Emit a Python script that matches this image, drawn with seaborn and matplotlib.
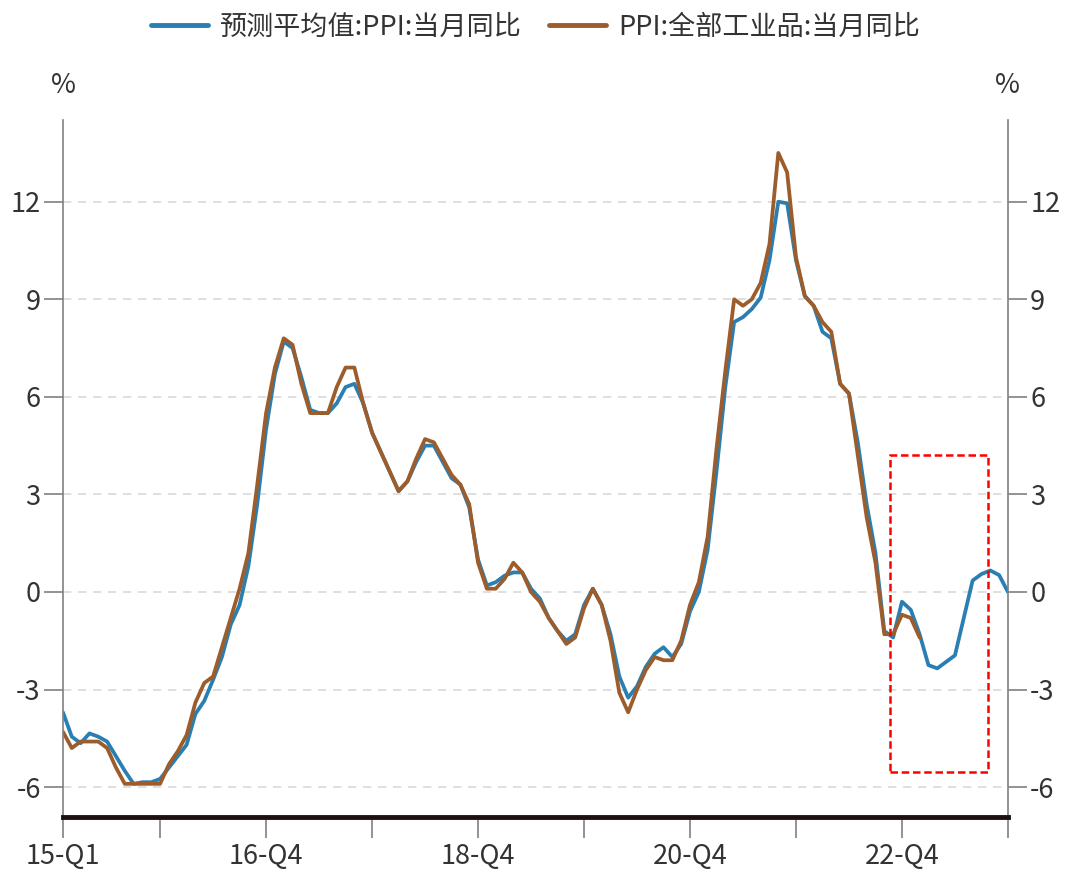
import numpy as np
import pandas as pd
import matplotlib
matplotlib.use("Agg")
import matplotlib.pyplot as plt
from matplotlib.patches import Rectangle
from matplotlib.lines import Line2D
import seaborn as sns

# ---------------- DATA (monthly, 2015-01 .. 2023-12) ----------------
forecast_ppi = [
    -3.7, -4.45, -4.65, -4.35, -4.45, -4.6, -5.05, -5.5, -5.9, -5.85, -5.85, -5.75,
    -5.4, -5.05, -4.7, -3.75, -3.35, -2.7, -2.0, -1.0, -0.4, 0.8, 2.7, 5.0,
    6.7, 7.7, 7.5, 6.6, 5.6, 5.5, 5.5, 5.8, 6.3, 6.4, 5.8, 4.9,
    4.3, 3.7, 3.1, 3.4, 4.0, 4.5, 4.5, 4.0, 3.5, 3.3, 2.6, 1.0,
    0.2, 0.3, 0.5, 0.6, 0.6, 0.1, -0.2, -0.8, -1.2, -1.5, -1.3, -0.4,
    0.1, -0.4, -1.3, -2.6, -3.25, -2.9, -2.3, -1.9, -1.7, -2.0, -1.6, -0.6,
    0.0, 1.3, 3.7, 6.3, 8.3, 8.45, 8.7, 9.05, 10.2, 12.0, 11.95, 10.2,
    9.1, 8.8, 8.0, 7.8, 6.4, 6.1, 4.6, 2.7, 1.2, -1.2, -1.4, -0.3,
    -0.55, -1.3, -2.25, -2.35, -2.15, -1.95, -0.8, 0.35, 0.55, 0.66, 0.52, 0.0,
]
actual_ppi = [
    -4.3, -4.8, -4.6, -4.6, -4.6, -4.8, -5.4, -5.9, -5.9, -5.9, -5.9, -5.9,
    -5.3, -4.9, -4.4, -3.4, -2.8, -2.6, -1.7, -0.8, 0.1, 1.2, 3.3, 5.5,
    6.9, 7.8, 7.6, 6.4, 5.5, 5.5, 5.5, 6.3, 6.9, 6.9, 5.8, 4.9,
    4.3, 3.7, 3.1, 3.4, 4.1, 4.7, 4.6, 4.1, 3.6, 3.3, 2.7, 0.9,
    0.1, 0.1, 0.4, 0.9, 0.6, 0.0, -0.3, -0.8, -1.2, -1.6, -1.4, -0.5,
    0.1, -0.4, -1.5, -3.1, -3.7, -3.0, -2.4, -2.0, -2.1, -2.1, -1.5, -0.4,
    0.3, 1.7, 4.4, 6.8, 9.0, 8.8, 9.0, 9.5, 10.7, 13.5, 12.9, 10.3,
    9.1, 8.8, 8.3, 8.0, 6.4, 6.1, 4.2, 2.3, 0.9, -1.3, -1.3, -0.7,
    -0.8, -1.4,
]
tick_pos = [0, 11, 23, 35, 47, 59, 71, 83, 95, 107]
tick_labels = ["15-Q1", "", "16-Q4", "", "18-Q4", "", "20-Q4", "", "22-Q4", ""]
y_ticks = [-6, -3, 0, 3, 6, 9, 12]

name_fc = "预测平均值:PPI:当月同比"
name_act = "PPI:全部工业品:当月同比"

df = pd.DataFrame({
    "month": list(range(len(forecast_ppi))) + list(range(len(actual_ppi))),
    "value": forecast_ppi + actual_ppi,
    "series": [name_fc] * len(forecast_ppi) + [name_act] * len(actual_ppi),
})

# ---------------- STYLE ----------------
sns.set_style("white")
plt.rcParams["font.family"] = ["Noto Sans CJK SC", "DejaVu Sans"]
plt.rcParams["axes.unicode_minus"] = False

blue = "#2a7fb2"
brown = "#9c5c2b"
grey = "#808080"
text_c = "#333333"
fs = 19.5

fig = plt.figure(figsize=(10.78, 8.84), dpi=100)
ax = fig.add_axes([0.0584, 0.0758, 0.8766, 0.788])

sns.lineplot(data=df, x="month", y="value", hue="series",
             palette={name_fc: blue, name_act: brown},
             hue_order=[name_fc, name_act], linewidth=2.7, ax=ax,
             legend=False)

ax.set_xlim(0, 107)
ax.set_ylim(-6.92, 14.5)
ax.set_xlabel("")
ax.set_ylabel("")

# grid
for v in y_ticks:
    ax.axhline(v, color="#d9d9d9", lw=1.2, ls=(0, (5, 4)), zorder=0)

# spines
for s in ["left", "right"]:
    ax.spines[s].set_color(grey)
    ax.spines[s].set_linewidth(1.2)
ax.spines["top"].set_visible(False)
ax.spines["bottom"].set_color("#1e1010")
ax.spines["bottom"].set_linewidth(3.5)

ax.set_yticks(y_ticks)
ax.set_yticklabels([str(v) for v in y_ticks])
ax.tick_params(axis="y", which="both", left=True, right=True,
               labelleft=True, labelright=True, length=14, width=1.2,
               color=grey, labelsize=fs, labelcolor=text_c, pad=2)

ax.set_xticks(tick_pos)
ax.set_xticklabels(tick_labels)
ax.tick_params(axis="x", bottom=True, length=15, width=1.2, color=grey,
               labelsize=fs, labelcolor=text_c, pad=4)

# unit labels
ax.text(0.0, 1.05, "%", transform=ax.transAxes, ha="center", va="center",
        fontsize=fs, color=text_c)
ax.text(1.0, 1.05, "%", transform=ax.transAxes, ha="center", va="center",
        fontsize=fs, color=text_c)

# highlight box around forecast period
ax.add_patch(Rectangle((93.7, -5.54), 11.0, 9.76, fill=False,
                       edgecolor="#ff0000", lw=1.8, ls=(0, (3, 1.5)),
                       zorder=5))

# legend
handles = [Line2D([], [], color=blue, lw=3.5),
           Line2D([], [], color=brown, lw=3.5)]
fig.legend(handles, [name_fc, name_act], loc="center",
           bbox_to_anchor=(0.497, 0.969), ncol=2, frameon=False,
           fontsize=19.5, handlelength=2.1, handletextpad=0.45,
           columnspacing=1.0, labelcolor=text_c)

fig.savefig("out.png", dpi=100)
